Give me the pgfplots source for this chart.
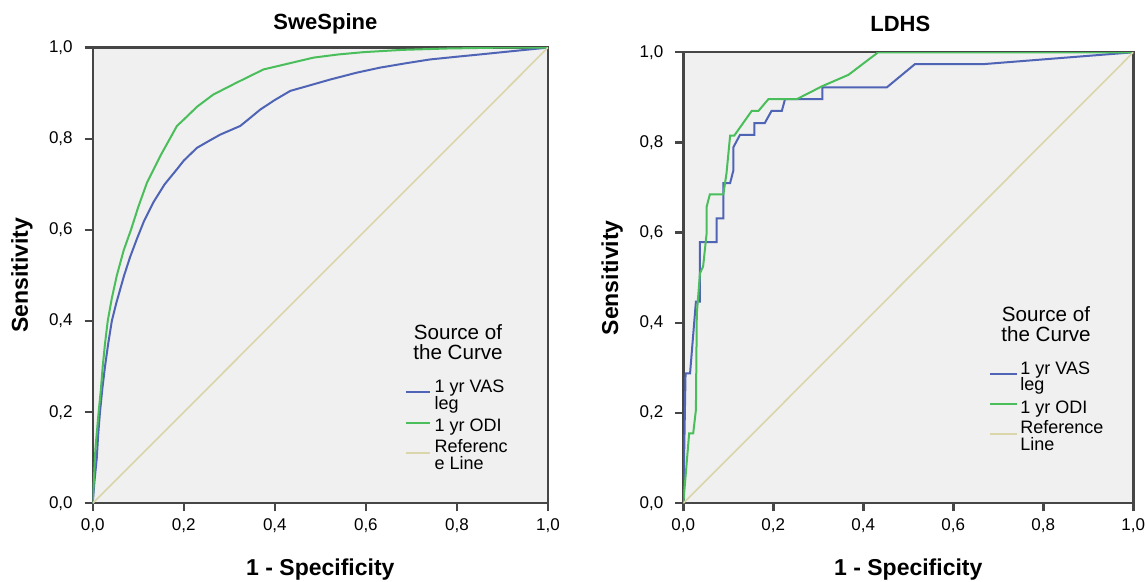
\documentclass[border=0pt]{standalone}
\usepackage{fontspec}
\setmainfont{Liberation Sans}
\usepackage{pgfplots}
\pgfplotsset{compat=1.18}

\definecolor{vasblue}{RGB}{80,100,182}
\definecolor{odigreen}{RGB}{74,190,90}
\definecolor{refline}{RGB}{218,214,170}
\definecolor{panel}{RGB}{240,240,240}
\definecolor{framegray}{RGB}{70,70,70}

\newcommand{\legfont}{\fontsize{9}{9}\selectfont}
\newcommand{\legtitlefont}{\fontsize{10.3}{10.3}\selectfont}

\tikzset{
  vas/.style={vasblue, line width=1pt},
  odi/.style={odigreen, line width=1pt},
  ref/.style={refline, line width=0.8pt},
}

\pgfplotsset{roc/.style={
    scale only axis, anchor=south west,
    xmin=0, xmax=1, ymin=0, ymax=1,
    xtick={0,0.2,0.4,0.6,0.8,1}, ytick={0,0.2,0.4,0.6,0.8,1},
    axis background/.style={fill=panel},
    axis line style={framegray, line width=1.2pt},
    tick style={framegray, line width=1.2pt},
    major tick length=4pt, tick align=outside,
    xtick pos=bottom, ytick pos=left,
    tick label style={font=\fontsize{8.5}{9}\selectfont},
    yticklabel style={xshift=-2.5pt},
    /pgf/number format/.cd, use comma, fixed, fixed zerofill, precision=1, assume math mode=true, /pgfplots/.cd,
    label style={font=\bfseries\fontsize{11.5}{13}\selectfont},
    every axis title shift=0pt,
    title style={font=\bfseries\fontsize{11}{13}\selectfont, anchor=center},
    xlabel style={at={(axis description cs:0.5,0)}, anchor=base, yshift=-35.9pt},
  },
}

\begin{document}
\begin{tikzpicture}
\useasboundingbox (0,0) rectangle (572.5pt,291pt);

% SweSpine
\begin{axis}[roc,
    at={(46.35pt,39.35pt)}, width=227.65pt, height=227.85pt,
    title={SweSpine}, title style={at={(0.5,1)}, yshift=11.8pt, xshift=2.5pt},
    xlabel={1 - Specificity}, ylabel={Sensitivity},
    ylabel style={at={(axis description cs:-0.1553,0.5)}, anchor=center},
]
\addplot[vas] coordinates {
  (0,0) (0.004,0.05) (0.009,0.10) (0.012,0.15) (0.016,0.20) (0.021,0.25)
  (0.027,0.30) (0.034,0.35) (0.042,0.40) (0.052,0.44) (0.069,0.50)
  (0.082,0.54) (0.097,0.58) (0.113,0.62) (0.133,0.66) (0.158,0.70)
  (0.185,0.733) (0.200,0.752) (0.229,0.78) (0.255,0.795) (0.280,0.809)
  (0.324,0.828) (0.345,0.845) (0.368,0.864) (0.400,0.885) (0.434,0.905)
  (0.480,0.918) (0.522,0.930) (0.580,0.945) (0.631,0.956) (0.690,0.966)
  (0.741,0.974) (0.800,0.980) (0.851,0.985) (0.920,0.992) (1,1)
};
\addplot[odi] coordinates {
  (0,0) (0.003,0.06) (0.006,0.12) (0.013,0.20) (0.018,0.25) (0.022,0.30)
  (0.027,0.35) (0.033,0.40) (0.042,0.45) (0.053,0.50) (0.068,0.555)
  (0.084,0.60) (0.100,0.65) (0.119,0.703) (0.150,0.765) (0.185,0.828)
  (0.200,0.842) (0.229,0.870) (0.265,0.897) (0.316,0.923) (0.375,0.952)
  (0.430,0.965) (0.485,0.978) (0.540,0.985) (0.595,0.990) (0.680,0.995)
  (0.778,0.998) (0.900,1.0) (1,1)
};
\addplot[ref] coordinates {(0,0) (1,1)};
% legend
\node[anchor=base, inner sep=0pt, font=\legtitlefont] at (axis cs:0.8023,0.3605) {Source of};
\node[anchor=base, inner sep=0pt, font=\legtitlefont] at (axis cs:0.8023,0.3145) {the Curve};
\draw[vas] (axis cs:0.6881,0.2449) -- (axis cs:0.7408,0.2449);
\draw[odi] (axis cs:0.6881,0.1769) -- (axis cs:0.7408,0.1769);
\draw[ref] (axis cs:0.6881,0.1110) -- (axis cs:0.7408,0.1110);
\begin{scope}[every node/.style={anchor=base west, inner sep=0pt, font=\legfont}]
\node at (axis cs:0.7503,0.2431) {1 yr VAS};
\node at (axis cs:0.7503,0.2069) {leg};
\node at (axis cs:0.7503,0.1576) {1 yr ODI};
\node at (axis cs:0.7503,0.1104) {Referenc};
\node at (axis cs:0.7503,0.0742) {e Line};
\end{scope}
\end{axis}

% LDHS
\begin{axis}[roc,
    at={(341.65pt,39.35pt)}, width=225pt, height=225.5pt,
    title={LDHS}, title style={at={(0.5,1)}, yshift=14pt, xshift=-4pt},
    xlabel={1 - Specificity}, ylabel={Sensitivity},
    ylabel style={at={(axis description cs:-0.1578,0.5)}, anchor=center},
]
\addplot[vas] coordinates {
  (0,0) (0.005,0.288) (0.015,0.288) (0.028,0.447) (0.037,0.447)
  (0.037,0.579) (0.074,0.579) (0.074,0.632) (0.089,0.632) (0.089,0.710)
  (0.104,0.710) (0.111,0.737) (0.111,0.789) (0.126,0.817) (0.158,0.817)
  (0.158,0.843) (0.181,0.843) (0.196,0.870) (0.219,0.870) (0.226,0.896)
  (0.309,0.896) (0.309,0.922) (0.452,0.922) (0.515,0.974) (0.670,0.974)
  (1,1)
};
\addplot[odi] coordinates {
  (0,0) (0.013,0.155) (0.022,0.155) (0.028,0.207) (0.030,0.420)
  (0.037,0.510) (0.044,0.525) (0.052,0.600) (0.052,0.658) (0.059,0.685)
  (0.089,0.685) (0.096,0.732) (0.104,0.815) (0.113,0.815) (0.152,0.870)
  (0.167,0.870) (0.189,0.896) (0.252,0.896) (0.309,0.925) (0.367,0.950)
  (0.433,1.0) (1,1)
};
\addplot[ref] coordinates {(0,0) (1,1)};
% legend
\node[anchor=base, inner sep=0pt, font=\legtitlefont] at (axis cs:0.806,0.4033) {Source of};
\node[anchor=base, inner sep=0pt, font=\legtitlefont] at (axis cs:0.806,0.3590) {the Curve};
\draw[vas] (axis cs:0.6816,0.2867) -- (axis cs:0.7409,0.2867);
\draw[odi] (axis cs:0.6816,0.2195) -- (axis cs:0.7409,0.2195);
\draw[ref] (axis cs:0.6816,0.1537) -- (axis cs:0.7409,0.1537);
\begin{scope}[every node/.style={anchor=base west, inner sep=0pt, font=\legfont}]
\node at (axis cs:0.7482,0.2851) {1 yr VAS};
\node at (axis cs:0.7482,0.2490) {leg};
\node at (axis cs:0.7482,0.2002) {1 yr ODI};
\node at (axis cs:0.7482,0.1537) {Reference};
\node at (axis cs:0.7482,0.1160) {Line};
\end{scope}
\end{axis}
\end{tikzpicture}
\end{document}
